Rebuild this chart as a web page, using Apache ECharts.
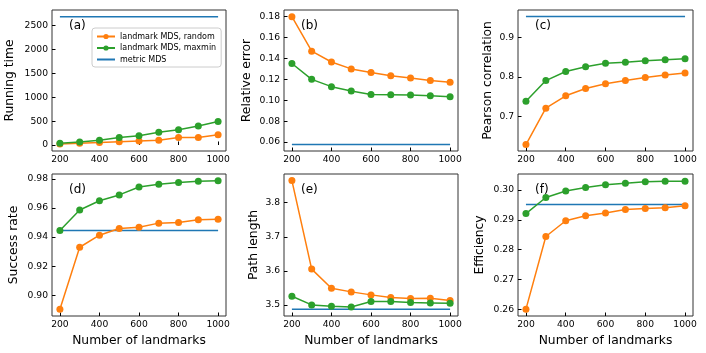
<!DOCTYPE html>
<html>
<head>
<meta charset="utf-8">
<script src="https://cdn.jsdelivr.net/npm/echarts@6/dist/echarts.min.js"></script>
<style>html,body{margin:0;padding:0;background:#fff}#c{width:706px;height:353px}</style>
</head>
<body>
<div id="c"></div>
<script>
var landmarks = [200, 300, 400, 500, 600, 700, 800, 900, 1000];
var xTicks = [200, 400, 600, 800, 1000];

var timeRandom = [20, 35, 50, 70, 85, 100, 155, 155, 215];
var timeMaxmin = [35, 63, 100, 155, 195, 265, 320, 400, 490];
var timeMetric = 2690;
var timeTicks = [0, 500, 1000, 1500, 2000, 2500];

var errRandom = [0.180, 0.147, 0.1366, 0.1300, 0.1266, 0.1235, 0.1212, 0.1190, 0.1173];
var errMaxmin = [0.1352, 0.1200, 0.1130, 0.1088, 0.1056, 0.1053, 0.1050, 0.1043, 0.1034];
var errMetric = 0.0577;
var errTicks = [0.06, 0.08, 0.10, 0.12, 0.14, 0.16, 0.18];

var corrRandom = [0.6277, 0.7204, 0.7519, 0.7706, 0.7825, 0.7910, 0.7983, 0.8050, 0.8100];
var corrMaxmin = [0.7380, 0.7906, 0.8136, 0.8260, 0.8349, 0.8375, 0.8410, 0.8434, 0.8460];
var corrMetric = 0.9536;
var corrTicks = [0.7, 0.8, 0.9];

var succRandom = [0.8903, 0.9330, 0.9413, 0.9459, 0.9468, 0.9496, 0.9500, 0.9519, 0.9523];
var succMaxmin = [0.9445, 0.9586, 0.9650, 0.9690, 0.9745, 0.9763, 0.9775, 0.9784, 0.9788];
var succMetric = 0.9445;
var succTicks = [0.90, 0.92, 0.94, 0.96, 0.98];

var pathRandom = [3.865, 3.6052, 3.549, 3.5383, 3.5295, 3.5216, 3.5187, 3.5197, 3.5128];
var pathMaxmin = [3.5256, 3.5000, 3.4961, 3.4941, 3.5098, 3.5098, 3.5069, 3.5059, 3.5049];
var pathMetric = 3.4872;
var pathTicks = [3.5, 3.6, 3.7, 3.8];

var effRandom = [0.2600, 0.2844, 0.2897, 0.2914, 0.2923, 0.2935, 0.2938, 0.2941, 0.2947];
var effMaxmin = [0.2921, 0.2975, 0.2997, 0.3009, 0.3018, 0.3023, 0.3028, 0.3030, 0.3030];
var effMetric = 0.29515;
var effTicks = [0.26, 0.27, 0.28, 0.29, 0.30];

var seriesNames = ['landmark MDS, random', 'landmark MDS, maxmin', 'metric MDS'];
var panelLabels = ['(a)', '(b)', '(c)', '(d)', '(e)', '(f)'];
var yNames = ['Running time', 'Relative error', 'Pearson correlation', 'Success rate', 'Path length', 'Efficiency'];
var xName = 'Number of landmarks';

var FONT = 'DejaVu Sans';
var C_OR = '#ff7f0e', C_GR = '#2ca02c', C_BL = '#1f77b4';

var panels = [
  {r: timeRandom, m: timeMaxmin, mm: timeMetric, ticks: timeTicks, min: -126, max: 2829, dec: 0, gap: 36},
  {r: errRandom, m: errMaxmin, mm: errMetric, ticks: errTicks, min: 0.0514, max: 0.1864, dec: 2, gap: 31},
  {r: corrRandom, m: corrMaxmin, mm: corrMetric, ticks: corrTicks, min: 0.6114, max: 0.9702, dec: 1, gap: 24},
  {r: succRandom, m: succMaxmin, mm: succMetric, ticks: succTicks, min: 0.8857, max: 0.9834, dec: 2, gap: 32},
  {r: pathRandom, m: pathMaxmin, mm: pathMetric, ticks: pathTicks, min: 3.4675, max: 3.8843, dec: 1, gap: 24},
  {r: effRandom, m: effMaxmin, mm: effMetric, ticks: effTicks, min: 0.2577, max: 0.3054, dec: 2, gap: 32}
];

var lefts = [52, 284, 518];
var widths = [174, 174, 175];
var tops = [10, 174];
var heights = [141, 142];

var grids = [], xAxes = [], yAxes = [], series = [], graphics = [];
function pairs(arr) { return landmarks.map(function (x, i) { return [x, arr[i]]; }); }

panels.forEach(function (p, i) {
  var col = i % 3, row = Math.floor(i / 3);
  grids.push({left: lefts[col], top: tops[row], width: widths[col], height: heights[row],
    show: true, borderColor: '#333', borderWidth: 1, backgroundColor: 'transparent', containLabel: false});
  xAxes.push({
    type: 'value', gridIndex: i, min: 160, max: 1040,
    name: row === 1 ? xName : '', nameLocation: 'middle', nameGap: 19,
    nameTextStyle: {fontFamily: FONT, fontSize: 12.3, color: '#000'},
    axisLine: {show: false}, splitLine: {show: false},
    axisTick: {show: true, inside: true, length: 3.5, customValues: xTicks, lineStyle: {color: '#000'}},
    axisLabel: {customValues: xTicks, fontFamily: FONT, fontSize: 9.2, color: '#000', margin: 4,
      formatter: function (v) { return String(Math.round(v)); }}
  });
  yAxes.push({
    type: 'value', gridIndex: i, min: p.min, max: p.max,
    name: yNames[i], nameLocation: 'middle', nameGap: p.gap, nameRotate: 90,
    nameTextStyle: {fontFamily: FONT, fontSize: 12.3, color: '#000'},
    axisLine: {show: false}, splitLine: {show: false},
    axisTick: {show: true, inside: true, length: 3.5, customValues: p.ticks, lineStyle: {color: '#000'}},
    axisLabel: {customValues: p.ticks, fontFamily: FONT, fontSize: 9.2, color: '#000', margin: 4,
      formatter: (function (d) { return function (v) { return v.toFixed(d); }; })(p.dec)}
  });
  series.push({
    name: seriesNames[0], type: 'line', xAxisIndex: i, yAxisIndex: i, data: pairs(p.r),
    symbol: 'circle', symbolSize: 7, itemStyle: {color: C_OR}, lineStyle: {color: C_OR, width: 1.5},
    animation: false, z: 3
  });
  series.push({
    name: seriesNames[1], type: 'line', xAxisIndex: i, yAxisIndex: i, data: pairs(p.m),
    symbol: 'circle', symbolSize: 7, itemStyle: {color: C_GR}, lineStyle: {color: C_GR, width: 1.5},
    animation: false, z: 3
  });
  series.push({
    name: seriesNames[2], type: 'line', xAxisIndex: i, yAxisIndex: i,
    data: [[landmarks[0], p.mm], [landmarks[landmarks.length - 1], p.mm]],
    showSymbol: false, symbol: 'none', itemStyle: {color: C_BL}, lineStyle: {color: C_BL, width: 1.5},
    animation: false, z: 2
  });
  graphics.push({type: 'text', left: lefts[col] + 17, top: tops[row] + 10,
    style: {text: panelLabels[i], font: '12px "DejaVu Sans"', fill: '#000'}});
});

var chart = echarts.init(document.getElementById('c'), null, {renderer: 'canvas'});
chart.setOption({
  animation: false,
  backgroundColor: '#fff',
  grid: grids, xAxis: xAxes, yAxis: yAxes, series: series,
  graphic: graphics,
  legend: {
    data: [
      {name: seriesNames[0]},
      {name: seriesNames[1]},
      {name: seriesNames[2], itemStyle: {color: 'rgba(0,0,0,0)', borderWidth: 0, opacity: 0}}
    ],
    orient: 'vertical', left: 92, top: 28,
    itemWidth: 18, itemHeight: 6.5, itemGap: 2.5, padding: [4, 5, 3, 4],
    borderColor: '#ccc', borderWidth: 1, borderRadius: 3, backgroundColor: 'rgba(255,255,255,0.8)',
    textStyle: {fontFamily: FONT, fontSize: 8, color: '#000', lineHeight: 9},
    selectedMode: false
  }
});
</script>
</body>
</html>
